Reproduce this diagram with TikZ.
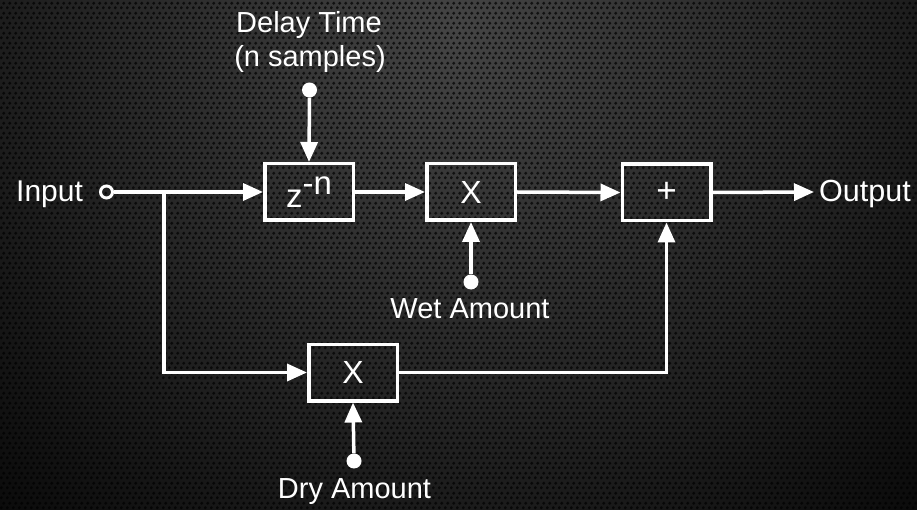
\documentclass[tikz,border=0pt]{standalone}
\usepackage{fontspec}
\setmainfont{Liberation Sans}
\usetikzlibrary{arrows.meta,patterns.meta}

% perforated-metal backdrop: staggered rows of small holes
\tikzdeclarepattern{
  name=perforated,
  type=uncolored,
  bounding box={(0pt,0pt) and (5.5pt,9.5pt)},
  tile size={(5.5pt,9.5pt)},
  code={
    \fill (1.375pt,2.375pt) circle [radius=1.8pt];
    \fill (4.125pt,7.125pt) circle [radius=1.8pt];
  }
}

\definecolor{plate}{HTML}{444444}
\definecolor{plateedge}{HTML}{060606}

\begin{document}
\begin{tikzpicture}[x=1pt,y=-1pt,
  wire/.style={draw=white, line width=3.5pt},
  flow/.style={wire, -{Triangle[length=20pt,width=17pt]}},
  block/.style={draw=white, line width=3.5pt, minimum width=88.5pt,
    minimum height=56.5pt, inner sep=0pt, text=white},
  caption/.style={text=white, inner sep=0pt, font=\fontsize{29}{34}\selectfont},
  knob/.style={circle, fill=white, minimum size=15pt, inner sep=0pt},
  jack/.style={circle, draw=white, line width=3pt, minimum size=12pt, inner sep=0pt},
]
\useasboundingbox (0,0) rectangle (917,510);

% backdrop
\begin{scope}
  \clip (0,0) rectangle (917,510);
  \shade[inner color=plate, outer color=plateedge] (458,30) circle [radius=720];
  \fill[pattern=perforated, pattern color=black, fill opacity=0.7] (0,0) rectangle (917,510);
\end{scope}

% processing blocks
\node[block, font=\fontsize{33}{36}\selectfont] (delay) at (309,192) {z\raisebox{13pt}{-n}};
\node[block, font=\fontsize{32}{36}\selectfont] (wet) at (471,192) {X};
\node[block, font=\fontsize{35}{38}\selectfont] (sum) at (666.5,192.5) {+};
\node[block, font=\fontsize{32}{36}\selectfont] (dry) at (353,372.5) {X};

% control knobs
\node[knob] (dknob) at (309.5,90) {};
\node[knob] (wknob) at (471,282) {};
\node[knob] (yknob) at (354,461) {};

% input jack
\node[jack] (jack) at (106.5,192) {};

% labels
\node[caption, font=\fontsize{30}{34}\selectfont, anchor=base west] (inlbl) at (16,202) {Input};
\node[caption, font=\fontsize{30.5}{34}\selectfont, anchor=base west] (outlbl) at (819,202) {Output};
\node[caption, anchor=base] (dtlbl) at (309,33) {Delay Time};
\node[caption, anchor=base] (nslbl) at (310,67) {(n samples)};
\node[caption, anchor=base] (wetlbl) at (470,318) {Wet Amount};
\node[caption, anchor=base] (drylbl) at (354.5,498) {Dry Amount};

% routing points
\coordinate (split) at (164,192);
\coordinate (drop) at (164,372.5);
\coordinate (rise) at (666.5,372.5);
\coordinate (outend) at (814,192);

% signal path
\draw[flow] (jack.east) -- (delay.west);
\draw[flow] (delay.east) -- (wet.west);
\draw[flow] (wet.east) -- (sum.west);
\draw[flow] (sum.east) -- (outend);
\draw[flow] (split) -- (drop) -- (dry.west);
\draw[flow] (dry.east) -- (rise) -- (sum.south);

% control inputs
\draw[flow] (dknob) -- (delay.north);
\draw[flow] (wknob) -- (wet.south);
\draw[flow] (yknob) -- (dry.south);
\end{tikzpicture}
\end{document}
